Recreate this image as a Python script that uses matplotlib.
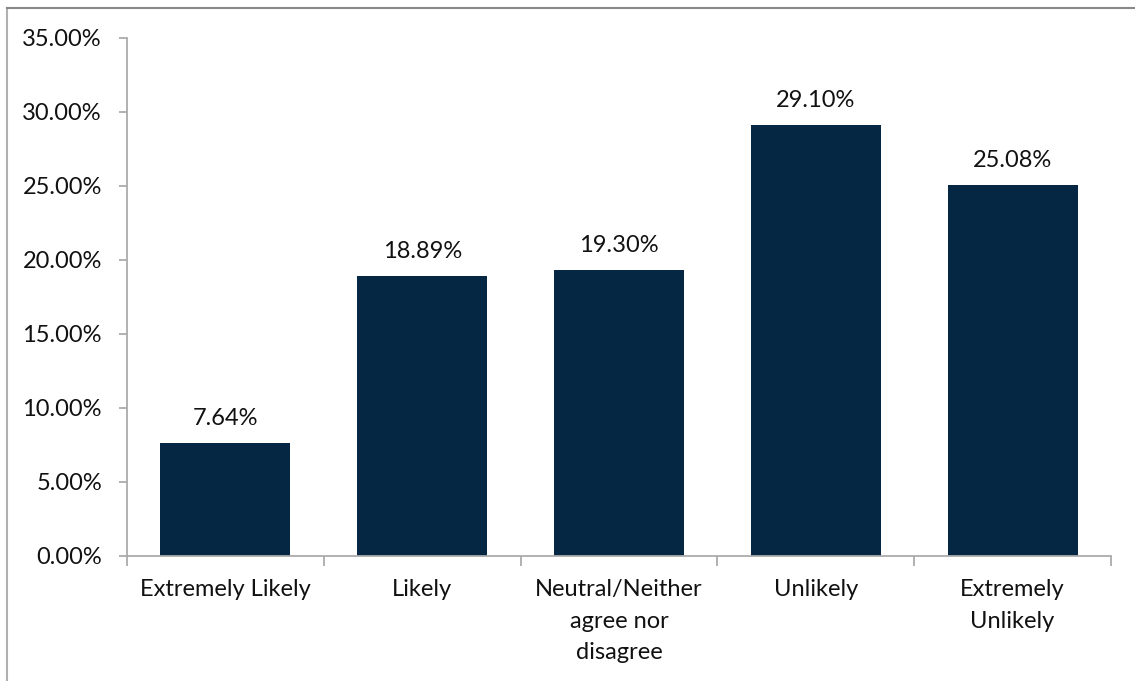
import matplotlib
matplotlib.use('Agg')
import matplotlib.pyplot as plt
from matplotlib.lines import Line2D
from matplotlib.ticker import FuncFormatter
import numpy as np

# data
categories = ['Extremely Likely', 'Likely', 'Neutral/Neither\nagree nor\ndisagree',
              'Unlikely', 'Extremely\nUnlikely']
values = [7.64, 18.89, 19.30, 29.10, 25.08]
yticks = [0, 5, 10, 15, 20, 25, 30, 35]

BAR = '#062743'
GRID = '#ababab'
FS = 17

plt.rcParams['font.family'] = ['Lato', 'DejaVu Sans']

W, H = 1135, 681
fig = plt.figure(figsize=(W / 100, H / 100), dpi=100)
# axes placed in pixel terms
left, right, top, bottom = 127, 1111, 37.7, 555.7
ax = fig.add_axes([left / W, 1 - bottom / H, (right - left) / W, (bottom - top) / H])

x = np.arange(len(categories))
ax.bar(x, values, width=0.66, color=BAR, zorder=2)

for xi, v in zip(x, values):
    ax.annotate('%.2f%%' % v, (xi, v), xytext=(0, 10), textcoords='offset points',
                ha='center', va='bottom', fontsize=FS, color='#111111')

ax.set_xlim(-0.5, len(categories) - 0.5)
ax.set_ylim(0, 35)
ax.set_yticks(yticks)
ax.yaxis.set_major_formatter(FuncFormatter(lambda v, p: '%.2f%%' % v))
ax.tick_params(axis='y', length=6, width=1.3, color=GRID, labelsize=FS, pad=12,
               labelcolor='#111111')

ax.set_xticks(x)
ax.set_xticklabels(categories, fontsize=FS, color='#111111', linespacing=1.6)
ax.tick_params(axis='x', which='major', length=0, pad=17)
ax.set_xticks(np.arange(len(categories) + 1) - 0.5, minor=True)
ax.tick_params(axis='x', which='minor', length=7, width=1.3, color=GRID)

for s in ['top', 'right']:
    ax.spines[s].set_visible(False)
for s in ['left', 'bottom']:
    ax.spines[s].set_color(GRID)
    ax.spines[s].set_linewidth(1.3)

# outer chart border (left and top edges visible)
fig.add_artist(Line2D([6.5 / W, 6.5 / W], [0, 1 - 7.5 / H], transform=fig.transFigure,
                      color='#b0b0b0', lw=1.5))
fig.add_artist(Line2D([6.5 / W, 1], [1 - 7.5 / H, 1 - 7.5 / H], transform=fig.transFigure,
                      color='#888888', lw=1.5))

fig.savefig('out.png', dpi=100)
